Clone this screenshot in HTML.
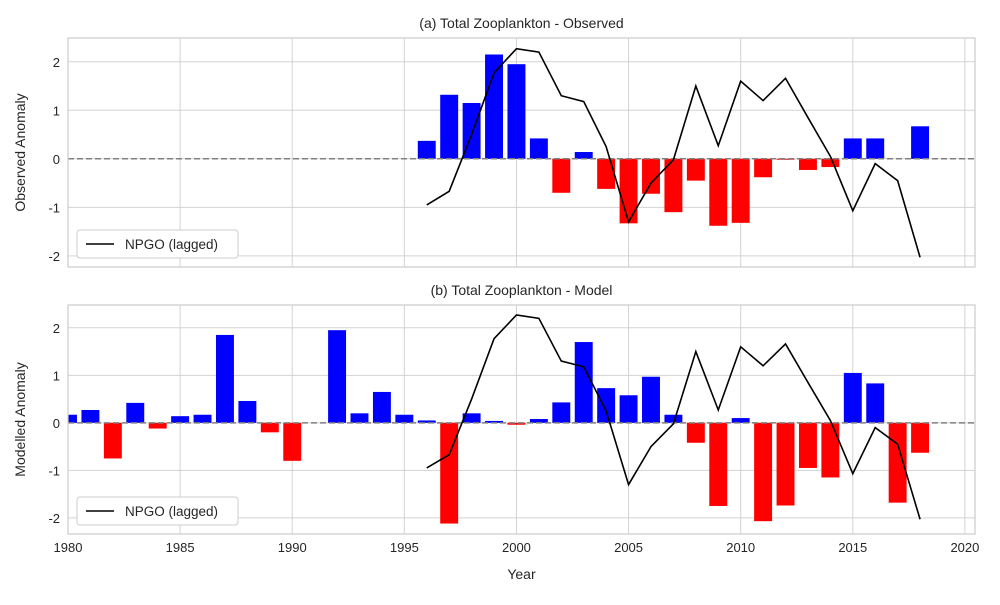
<!DOCTYPE html>
<html><head><meta charset="utf-8"><style>
body{margin:0;background:#fff;font-family:"Liberation Sans","DejaVu Sans",sans-serif;}
svg text{font-family:"Liberation Sans","DejaVu Sans",sans-serif;fill:#262626;}
</style></head><body>
<svg id="chart" width="1000" height="600" xmlns="http://www.w3.org/2000/svg"></svg>
<script>
const npgoYears=[1996,1997,1998,1999,2000,2001,2002,2003,2004,2005,2006,2007,2008,2009,2010,2011,2012,2013,2014,2015,2016,2017,2018];
const npgoValues=[-0.95,-0.67,0.5,1.77,2.27,2.2,1.3,1.18,0.25,-1.3,-0.5,-0.02,1.5,0.27,1.6,1.2,1.66,0.85,0.05,-1.07,-0.1,-0.45,-2.03];
const obsYears=[1996,1997,1998,1999,2000,2001,2002,2003,2004,2005,2006,2007,2008,2009,2010,2011,2012,2013,2014,2015,2016,2018];
const obsValues=[0.37,1.32,1.15,2.15,1.95,0.42,-0.7,0.14,-0.62,-1.33,-0.72,-1.1,-0.45,-1.38,-1.32,-0.38,-0.02,-0.23,-0.17,0.42,0.42,0.67];
const modYears=[1980,1981,1982,1983,1984,1985,1986,1987,1988,1989,1990,1991,1992,1993,1994,1995,1996,1997,1998,1999,2000,2001,2002,2003,2004,2005,2006,2007,2008,2009,2010,2011,2012,2013,2014,2015,2016,2017,2018];
const modValues=[0.17,0.27,-0.75,0.42,-0.12,0.14,0.17,1.85,0.46,-0.2,-0.8,0,1.95,0.2,0.65,0.17,0.05,-2.12,0.2,0.04,-0.04,0.08,0.43,1.7,0.73,0.58,0.97,0.17,-0.42,-1.75,0.1,-2.07,-1.74,-0.95,-1.15,1.05,0.83,-1.68,-0.63];
const xTicks=[1980,1985,1990,1995,2000,2005,2010,2015,2020];
const yTicks=[-2,-1,0,1,2];

const svg=document.getElementById('chart');
const NS='http://www.w3.org/2000/svg';
function mk(tag,attrs,parent){const e=document.createElementNS(NS,tag);for(const k in attrs)e.setAttribute(k,attrs[k]);(parent||svg).appendChild(e);return e;}
const X0=68,X1=975,Xmin=1980,Xmax=2020.45;
const xs=v=>X0+(v-Xmin)/(Xmax-Xmin)*(X1-X0);

function panel(top,bottom,ymax,ymin,title,ylabel,years,vals,prefix,showX){
  const ys=v=>top+(ymax-v)/(ymax-ymin)*(bottom-top);
  const g=mk('g',{});
  
  
  const clipId=prefix+'clip';
  const cp=mk('clipPath',{id:clipId},g);mk('rect',{x:X0,y:top,width:X1-X0,height:bottom-top},cp);
  xTicks.forEach(t=>{const l=mk('line',{x1:xs(t),x2:xs(t),y1:top,y2:bottom,stroke:'#d3d3d3','stroke-width':1},g);
    
    if(showX){const tx=mk('text',{x:xs(t),y:bottom+18,'text-anchor':'middle','font-size':13},g);tx.textContent=t;
      }});
  yTicks.forEach(t=>{const l=mk('line',{x1:X0,x2:X1,y1:ys(t),y2:ys(t),stroke:'#d3d3d3','stroke-width':1},g);
    
    const tx=mk('text',{x:X0-8,y:ys(t)+5,'text-anchor':'end','font-size':13},g);tx.textContent=t;
    });
  const bars=mk('g',{'clip-path':'url(#'+clipId+')'},g);
  years.forEach((yr,i)=>{const v=vals[i];const w=0.8*(X1-X0)/(Xmax-Xmin);
    const r=mk('rect',{x:xs(yr)-w/2,y:Math.min(ys(v),ys(0)),width:w,height:Math.abs(ys(v)-ys(0)),fill:v>=0?'#0000ff':'#ff0000'},bars);
    });
  const z=mk('line',{x1:X0,x2:X1,y1:ys(0),y2:ys(0),stroke:'#808080','stroke-width':1.5,'stroke-dasharray':'6,3'},g);
  
  const pts=npgoYears.map((yr,i)=>xs(yr)+','+ys(npgoValues[i])).join(' ');
  const pl=mk('polyline',{points:pts,fill:'none',stroke:'#000','stroke-width':1.6},g);
  
  const fr=mk('rect',{x:X0,y:top,width:X1-X0,height:bottom-top,fill:'none',stroke:'#cccccc','stroke-width':1.2},g);
  
  const ti=mk('text',{x:(X0+X1)/2,y:top-10,'text-anchor':'middle','font-size':14},g);ti.textContent=title;
  
  const yl=mk('text',{x:0,y:0,'text-anchor':'middle','font-size':14,transform:`translate(25,${(top+bottom)/2}) rotate(-90)`},g);yl.textContent=ylabel;
  
  const lg=mk('g',{},g);
  mk('rect',{x:77,y:bottom-37,width:161,height:28,rx:3,fill:'#fff',stroke:'#cccccc'},lg);
  mk('line',{x1:86,x2:114,y1:bottom-23,y2:bottom-23,stroke:'#000','stroke-width':1.6},lg);
  const lt=mk('text',{x:125,y:bottom-18,'font-size':13.5},lg);lt.textContent='NPGO (lagged)';
  
}
panel(38,267,2.49,-2.23,'(a) Total Zooplankton - Observed','Observed Anomaly',obsYears,obsValues,'observed',false);
panel(305,534,2.48,-2.34,'(b) Total Zooplankton - Model','Modelled Anomaly',modYears,modValues,'model',true);
const xt=mk('text',{x:(X0+X1)/2,y:579,'text-anchor':'middle','font-size':14});xt.textContent='Year';


</script>
</body></html>
